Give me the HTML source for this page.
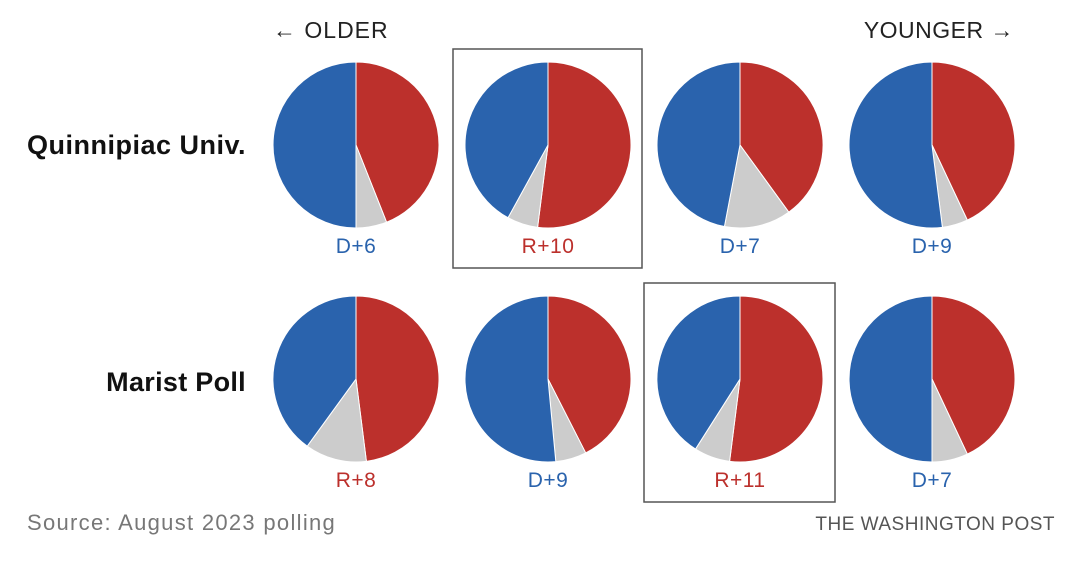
<!DOCTYPE html>
<html><head><meta charset="utf-8"><style>
body{margin:0;background:#fff;width:1080px;height:561px;overflow:hidden;font-family:"Liberation Sans",sans-serif}
</style></head><body>
<svg id="c" width="1080" height="561" style="position:absolute;left:0;top:0">
<text x="273" y="38" font-size="23" fill="#222" letter-spacing="1">← OLDER</text>
<text x="1014" y="38" font-size="23" fill="#222" letter-spacing="0.5" text-anchor="end">YOUNGER →</text>
<text x="246" y="154" font-size="27" font-weight="bold" fill="#111" letter-spacing="0.5" text-anchor="end">Quinnipiac Univ.</text>
<text x="246" y="391" font-size="27" font-weight="bold" fill="#111" letter-spacing="0.3" text-anchor="end">Marist Poll</text>
<rect x="453" y="49" width="189" height="219" fill="none" stroke="#555" stroke-width="1.5"/>
<rect x="644" y="283" width="191" height="219" fill="none" stroke="#555" stroke-width="1.5"/>
<text x="27" y="530" font-size="22" fill="#777" letter-spacing="1.3">Source: August 2023 polling</text>
<text x="1055" y="530" font-size="19" fill="#555" letter-spacing="0.5" text-anchor="end">THE WASHINGTON POST</text>
</svg>
<script>
const rows=["Quinnipiac Univ.","Marist Poll"];
const redVals=[44,52,40,43,48,42.5,52,43];
const grayVals=[6,6,13,5,12,6,7,7];
const blueVals=[50,42,47,52,40,51.5,41,50];
const labels=["D+6","R+10","D+7","D+9","R+8","D+9","R+11","D+7"];
const svg=document.getElementById('c');
const NS="http://www.w3.org/2000/svg";
const cx0=356,dx=192,cy0=145,dy=234,R=83;
function pt(cx,cy,a){const t=a/100*2*Math.PI;return [cx+R*Math.sin(t),cy-R*Math.cos(t)];}
function slice(cx,cy,a0,a1,col,name){
 const p=document.createElementNS(NS,'path');
 const [x0,y0]=pt(cx,cy,a0),[x1,y1]=pt(cx,cy,a1);
 p.setAttribute('d',`M${cx},${cy}L${x0},${y0}A${R},${R} 0 ${a1-a0>50?1:0} 1 ${x1},${y1}Z`);
 p.setAttribute('fill',col);p.setAttribute('stroke','#fff');p.setAttribute('stroke-width','1');
 
 
 svg.appendChild(p);
}
for(let i=0;i<8;i++){
 const cx=cx0+(i%4)*dx,cy=cy0+Math.floor(i/4)*dy;
 const tot=redVals[i]+grayVals[i]+blueVals[i];
 const r=redVals[i]/tot*100,g=grayVals[i]/tot*100;
 slice(cx,cy,0,r,'#bc302c','slice-republican');
 slice(cx,cy,r,r+g,'#cccccc','slice-undecided');
 slice(cx,cy,r+g,100,'#2a63ad','slice-democrat');
 const t=document.createElementNS(NS,'text');
 t.setAttribute('x',cx);t.setAttribute('y',cy+108);t.setAttribute('text-anchor','middle');
 t.setAttribute('font-size','21');
 t.setAttribute('letter-spacing','0.5');
 t.setAttribute('fill',labels[i][0]==='R'?'#bc302c':'#2a63ad');
 t.textContent=labels[i];
 
 
 svg.appendChild(t);
}
</script>
</body></html>
